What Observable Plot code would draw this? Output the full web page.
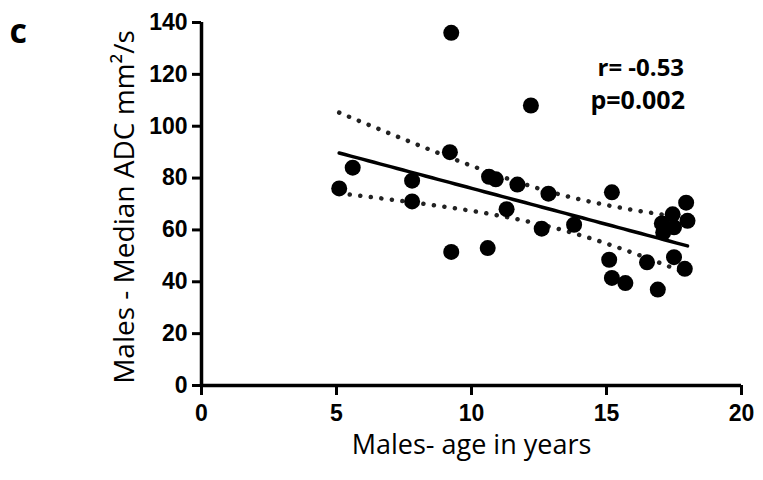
<!DOCTYPE html>
<html>
<head>
<meta charset="utf-8">
<script src="https://cdn.jsdelivr.net/npm/d3@7"></script>
<script src="https://cdn.jsdelivr.net/npm/@observablehq/plot@0.6"></script>
<style>
  html, body { margin: 0; padding: 0; background: #fff; }
  #chart { width: 763px; height: 480px; }
</style>
</head>
<body>
<div id="chart"></div>
<script>
// Data
const ages = [5.1, 5.6, 7.8, 7.8, 9.25, 9.2, 9.25, 10.6, 10.65, 10.9, 11.7, 12.2, 12.85, 11.3, 12.6, 13.8,
              15.2, 15.1, 15.2, 15.7, 16.5, 16.9, 17.5, 17.9, 17.95, 17.45, 18.0, 17.05, 17.5, 17.1];
const adc  = [76, 84, 79, 71, 136, 90, 51.5, 53, 80.5, 79.5, 77.5, 108, 74, 68, 60.5, 62,
              74.5, 48.5, 41.5, 39.5, 47.5, 37, 49.5, 45, 70.5, 66, 63.5, 62.5, 61, 59];
const xTicks = [0, 5, 10, 15, 20];
const yTicks = [0, 20, 40, 60, 80, 100, 120, 140];
const statLines = ["r= -0.53", "p=0.002"];
const panelLabel = "c";
const xLabel = "Males- age in years";
const yLabel = "Males - Median ADC mm\u00B2/s";
const tCrit = 2.048; // t(0.975, df = n - 2)

const points = ages.map((a, i) => ({age: a, adc: adc[i]}));

// Linear regression and 95% confidence band of the line
const n = points.length;
const mx = d3.mean(ages), my = d3.mean(adc);
const sxx = d3.sum(ages, a => (a - mx) ** 2);
const sxy = d3.sum(points, d => (d.age - mx) * (d.adc - my));
const slope = sxy / sxx;
const intercept = my - slope * mx;
const sse = d3.sum(points, d => (d.adc - (intercept + slope * d.age)) ** 2);
const s = Math.sqrt(sse / (n - 2));
const [xmin, xmax] = d3.extent(ages);
const grid = d3.range(0, 61).map(i => xmin + (xmax - xmin) * i / 60);
const fit = grid.map(x => {
  const yhat = intercept + slope * x;
  const h = tCrit * s * Math.sqrt(1 / n + (x - mx) ** 2 / sxx);
  return {age: x, fit: yhat, lo: yhat - h, hi: yhat + h};
});

const chart = Plot.plot({
  width: 763,
  height: 480,
  marginLeft: 201,
  marginRight: 22,
  marginTop: 22,
  marginBottom: 95,
  style: {fontFamily: "'Liberation Sans', Arial, sans-serif", background: "#fff", color: "#000", overflow: "visible"},
  x: {domain: [0, 20]},
  y: {domain: [0, 140]},
  marks: [
    Plot.axisX({ticks: xTicks, tickSize: 10, strokeWidth: 3, fontSize: 23, fontWeight: "bold", tickPadding: 9, label: null}),
    Plot.axisY({ticks: yTicks, tickSize: 9, strokeWidth: 3, fontSize: 23, fontWeight: "bold", tickPadding: 5, label: null}),
    Plot.ruleY([0], {stroke: "#000", strokeWidth: 3.5}),
    Plot.ruleX([0], {stroke: "#000", strokeWidth: 3.5}),
    Plot.line(fit, {x: "age", y: "hi", stroke: "#222", strokeWidth: 4.5, strokeDasharray: "0.1,10.5", strokeLinecap: "round"}),
    Plot.line(fit, {x: "age", y: "lo", stroke: "#222", strokeWidth: 4.5, strokeDasharray: "0.1,10.5", strokeLinecap: "round"}),
    Plot.dot(points, {x: "age", y: "adc", r: 8, fill: "#000", stroke: "none"}),
    Plot.line(fit, {x: "age", y: "fit", stroke: "#000", strokeWidth: 3.5}),
    Plot.text([statLines[0]], {text: d => d, frameAnchor: "top-left", dx: 396, dy: 46, textAnchor: "start", lineAnchor: "middle",
      fontFamily: "'Open Sans', sans-serif", fontWeight: "bold", fontSize: 24}),
    Plot.text([statLines[1]], {text: d => d, frameAnchor: "top-left", dx: 389, dy: 78, textAnchor: "start", lineAnchor: "middle",
      fontFamily: "'Open Sans', sans-serif", fontWeight: "bold", fontSize: 25}),
    Plot.text([panelLabel], {text: d => d, frameAnchor: "top-left", dx: -192, dy: 10, textAnchor: "start", lineAnchor: "middle",
      fontFamily: "'Open Sans', sans-serif", fontWeight: "bold", fontSize: 34}),
    Plot.text([yLabel], {text: d => d, frameAnchor: "left", dx: -76, dy: 3, rotate: -90, textAnchor: "middle", lineAnchor: "middle",
      fontFamily: "'Open Sans', sans-serif", fontSize: 28}),
    Plot.text([xLabel], {text: d => d, frameAnchor: "bottom", dy: 60, textAnchor: "middle", lineAnchor: "middle",
      fontFamily: "'Open Sans', sans-serif", fontSize: 27})
  ]
});
document.getElementById("chart").append(chart);
</script>
</body>
</html>
